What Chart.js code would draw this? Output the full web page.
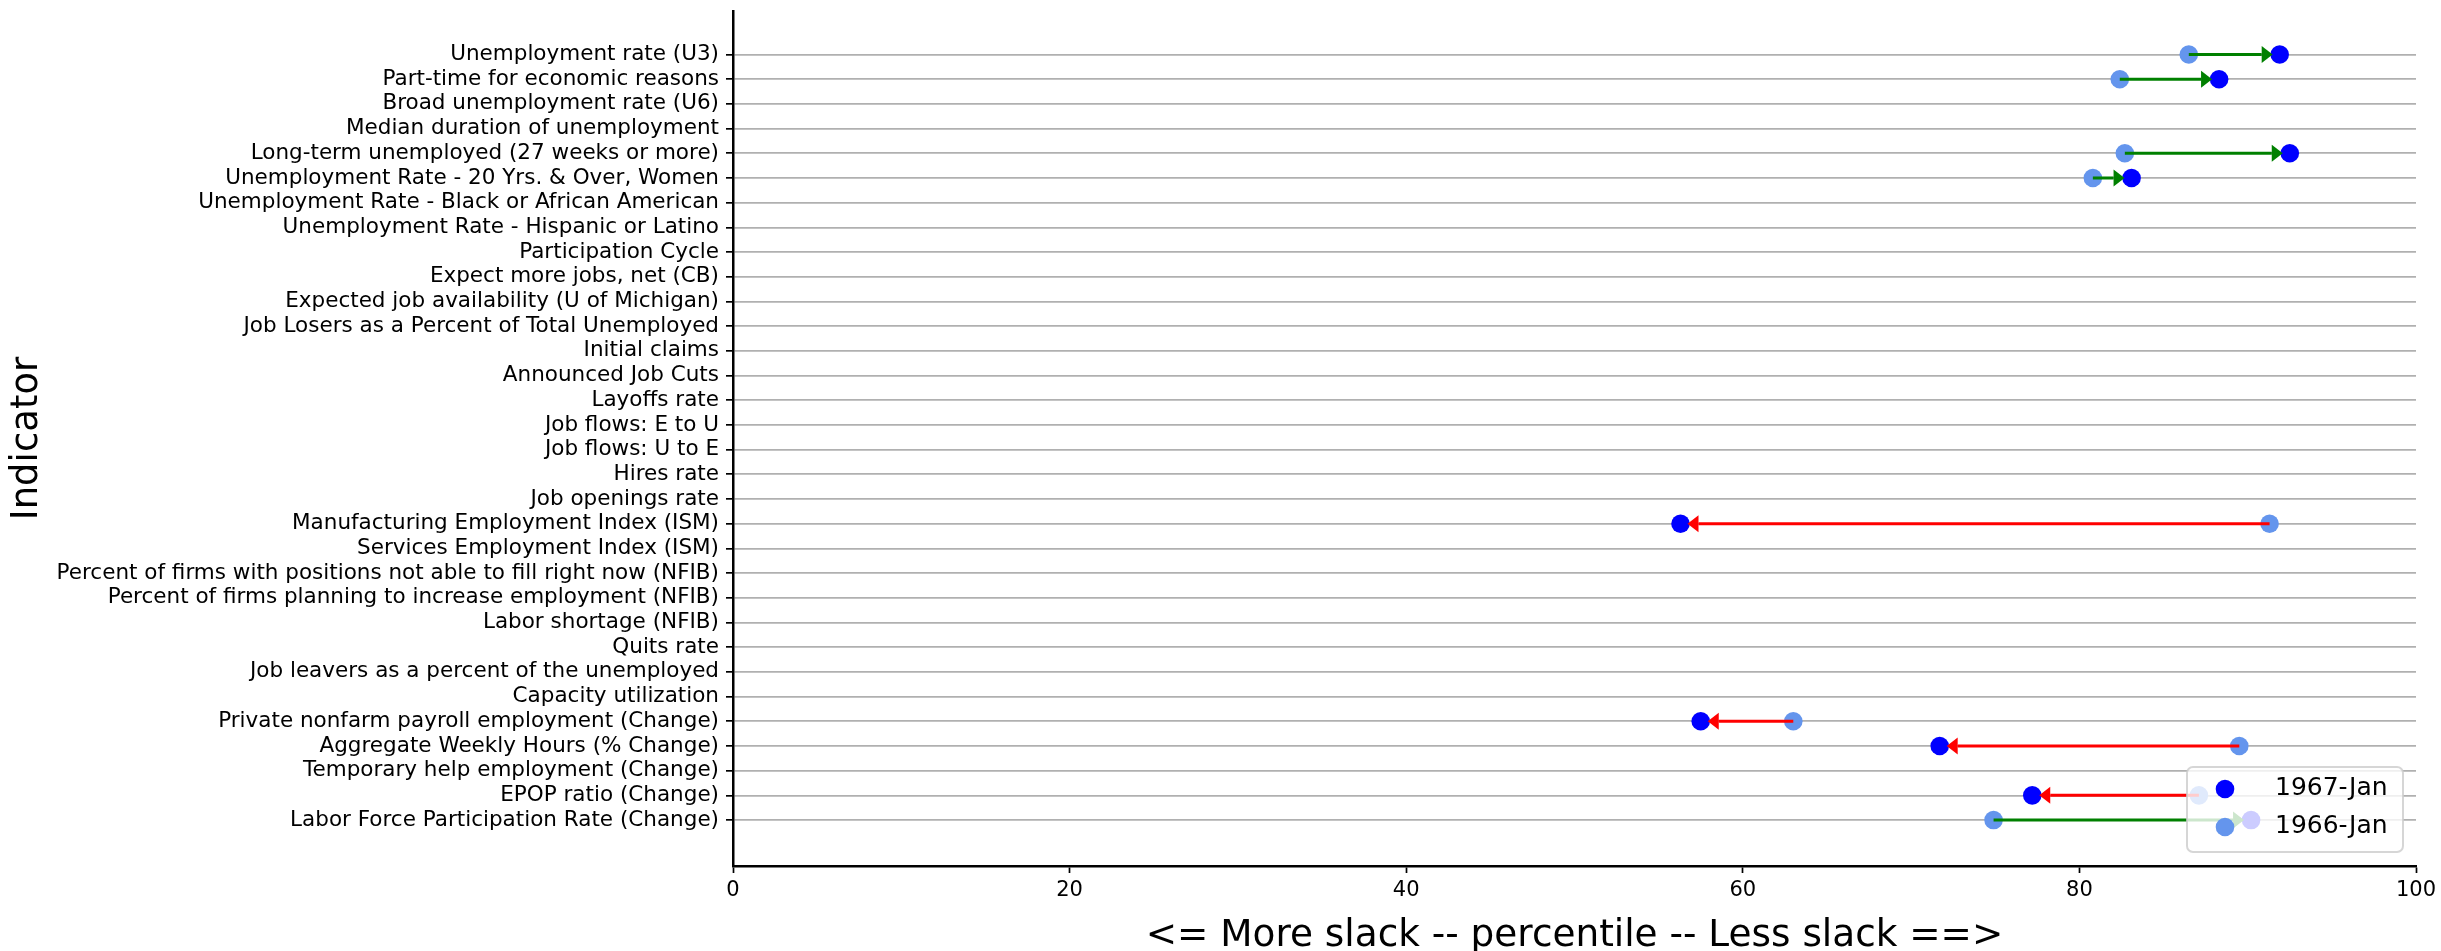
<!DOCTYPE html>
<html><head><meta charset="utf-8">
<script src="https://cdn.jsdelivr.net/npm/chart.js@4"></script>
<style>html,body{margin:0;padding:0;background:#fff}canvas{display:block}</style>
</head><body>
<canvas id="c" width="2441" height="951"></canvas>
<script>
const indicators = [
  "Unemployment rate (U3)",
  "Part-time for economic reasons",
  "Broad unemployment rate (U6)",
  "Median duration of unemployment",
  "Long-term unemployed (27 weeks or more)",
  "Unemployment Rate - 20 Yrs. & Over, Women",
  "Unemployment Rate - Black or African American",
  "Unemployment Rate - Hispanic or Latino",
  "Participation Cycle",
  "Expect more jobs, net (CB)",
  "Expected job availability (U of Michigan)",
  "Job Losers as a Percent of Total Unemployed",
  "Initial claims",
  "Announced Job Cuts",
  "Layoffs rate",
  "Job flows: E to U",
  "Job flows: U to E",
  "Hires rate",
  "Job openings rate",
  "Manufacturing Employment Index (ISM)",
  "Services Employment Index (ISM)",
  "Percent of firms with positions not able to fill right now (NFIB)",
  "Percent of firms planning to increase employment (NFIB)",
  "Labor shortage (NFIB)",
  "Quits rate",
  "Job leavers as a percent of the unemployed",
  "Capacity utilization",
  "Private nonfarm payroll employment (Change)",
  "Aggregate Weekly Hours (% Change)",
  "Temporary help employment (Change)",
  "EPOP ratio (Change)",
  "Labor Force Participation Rate (Change)"
];
const jan1967 = [91.9, 88.3, null, null, 92.5, 83.1, null, null, null, null, null, null, null, null, null, null, null, null, null, 56.3, null, null, null, null, null, null, null, 57.5, 71.7, null, 77.2, 90.2];
const jan1966 = [86.5, 82.4, null, null, 82.7, 80.8, null, null, null, null, null, null, null, null, null, null, null, null, null, 91.3, null, null, null, null, null, null, null, 63.0, 89.5, null, 87.1, 74.9];
const seriesLabels = ["1967-Jan", "1966-Jan"];
const seriesColors = ["#0000ff", "#6495ed"];
const xTicks = [0, 20, 40, 60, 80, 100];
const xTitle = "<= More slack -- percentile -- Less slack ==>";
const yTitle = "Indicator";

const FONT = '"DejaVu Sans", sans-serif';
Chart.defaults.font.family = FONT;
Chart.defaults.color = '#000';

function toPoints(arr) {
  const out = [];
  arr.forEach((v, i) => { if (v !== null) out.push({x: v, y: i}); });
  return out;
}

const arrowPlugin = {
  id: 'arrows',
  afterDatasetsDraw(chart) {
    const ctx = chart.ctx, xs = chart.scales.x, ys = chart.scales.y;
    ctx.save();
    for (let i = 0; i < indicators.length; i++) {
      const a = jan1966[i], b = jan1967[i];
      if (a === null || b === null) continue;
      const x0 = xs.getPixelForValue(a), x1 = xs.getPixelForValue(b), y = ys.getPixelForValue(i);
      const dir = Math.sign(x1 - x0) || 1;
      const col = b >= a ? '#008000' : '#ff0000';
      const tip = x1 - dir * 7;
      const headLen = 11, headHalf = 8.5;
      const base = tip - dir * headLen;
      ctx.strokeStyle = col; ctx.fillStyle = col; ctx.lineWidth = 3;
      ctx.beginPath(); ctx.moveTo(x0, y); ctx.lineTo(base, y); ctx.stroke();
      ctx.beginPath(); ctx.moveTo(tip, y); ctx.lineTo(base, y - headHalf); ctx.lineTo(base, y + headHalf); ctx.closePath(); ctx.fill();
    }
    ctx.restore();
  }
};

const legendPlugin = {
  id: 'mplLegend',
  afterDraw(chart) {
    const ctx = chart.ctx;
    const bx = 2187, by = 767, bw = 216, bh = 85, r = 6;
    ctx.save();
    ctx.beginPath();
    ctx.moveTo(bx + r, by);
    ctx.arcTo(bx + bw, by, bx + bw, by + bh, r);
    ctx.arcTo(bx + bw, by + bh, bx, by + bh, r);
    ctx.arcTo(bx, by + bh, bx, by, r);
    ctx.arcTo(bx, by, bx + bw, by, r);
    ctx.closePath();
    ctx.fillStyle = 'rgba(255,255,255,0.8)';
    ctx.fill();
    ctx.strokeStyle = 'rgba(204,204,204,0.8)';
    ctx.lineWidth = 2;
    ctx.stroke();
    const rowsY = [789, 827];
    chart.data.datasets.forEach((ds, k) => {
      ctx.fillStyle = ds.backgroundColor;
      ctx.beginPath(); ctx.arc(2225, rowsY[k], 9.3, 0, Math.PI * 2); ctx.fill();
      ctx.fillStyle = '#000';
      ctx.font = '25px ' + FONT;
      ctx.textBaseline = 'middle';
      ctx.textAlign = 'left';
      ctx.fillText(ds.label, 2275, rowsY[k] - 1);
    });
    ctx.restore();
  }
};

new Chart(document.getElementById('c'), {
  type: 'scatter',
  data: {
    datasets: [
      {label: seriesLabels[0], data: toPoints(jan1967), backgroundColor: seriesColors[0], borderWidth: 0, pointRadius: 9.3, pointHoverRadius: 9.3},
      {label: seriesLabels[1], data: toPoints(jan1966), backgroundColor: seriesColors[1], borderWidth: 0, pointRadius: 9.3, pointHoverRadius: 9.3}
    ]
  },
  options: {
    responsive: false,
    animation: false,
    devicePixelRatio: 1,
    layout: {padding: {left: 0, right: 25, top: 11, bottom: 0}},
    plugins: {legend: {display: false}, tooltip: {enabled: false}},
    scales: {
      x: {
        type: 'linear', min: 0, max: 100,
        afterBuildTicks: (s) => { s.ticks = xTicks.map(v => ({value: v})); },
        afterFit: (s) => { s.height = 85; s.paddingLeft = 0; s.paddingRight = 0; },
        grid: {drawOnChartArea: false, drawTicks: true, tickLength: 7, tickColor: '#000', tickWidth: 1.7},
        border: {display: true, color: '#000', width: 2.5},
        ticks: {font: {size: 21}, padding: 5, color: '#000', maxRotation: 0},
        title: {display: true, text: xTitle, font: {size: 37.4, lineHeight: 0.8}, padding: {top: 0, bottom: 0}, color: '#000'}
      },
      y: {
        type: 'linear', min: -1.762, max: 32.86, reverse: true,
        afterBuildTicks: (s) => { s.ticks = indicators.map((_, i) => ({value: i})); },
        afterFit: (s) => { s.width = 733; s.paddingTop = 0; s.paddingBottom = 0; },
        grid: {color: '#b0b0b0', lineWidth: 1.7, drawTicks: true, tickLength: 7, tickColor: '#000', tickWidth: 1.7},
        border: {display: true, color: '#000', width: 2.5},
        ticks: {autoSkip: false, font: {size: 21.5}, padding: 7, color: '#000', callback: (v) => indicators[v]},
        title: {display: true, text: yTitle, font: {size: 37, lineHeight: 1.2}, padding: {top: 5, bottom: 0}, color: '#000'}
      }
    }
  },
  plugins: [arrowPlugin, legendPlugin]
});
</script>
</body></html>
